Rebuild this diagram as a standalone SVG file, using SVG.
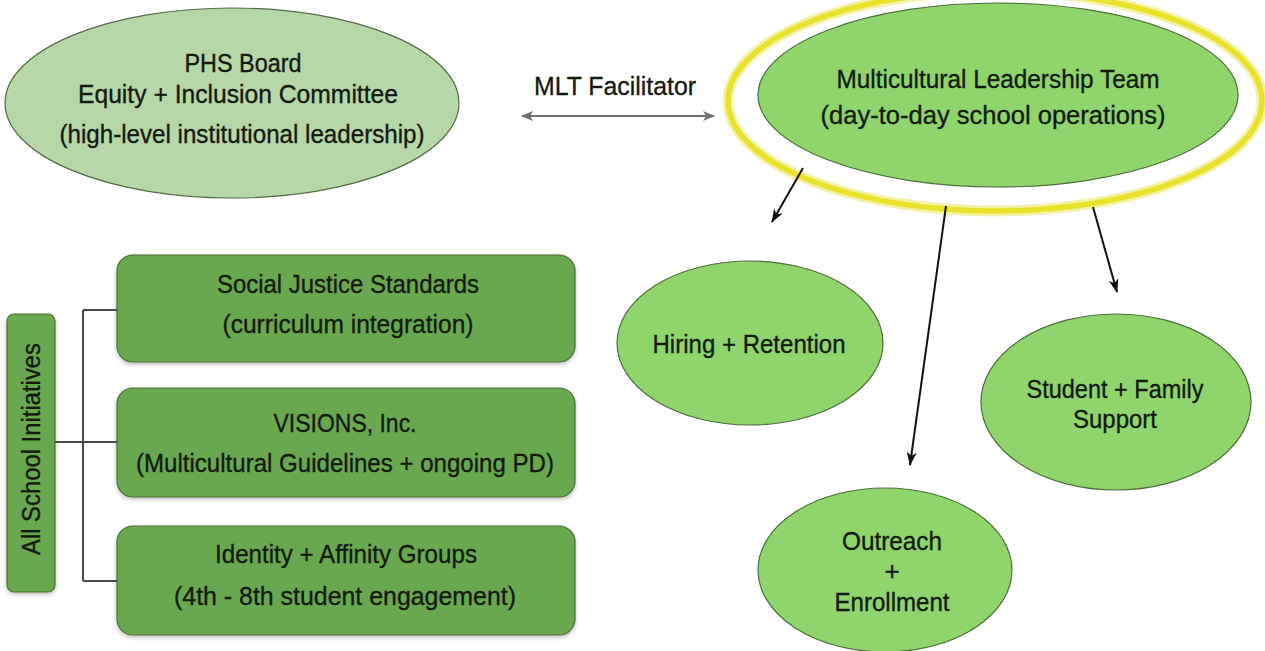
<svg xmlns="http://www.w3.org/2000/svg" width="1265" height="651" viewBox="0 0 1265 651">
<defs>
<style>
text{font-family:"Liberation Sans",Arial,sans-serif;font-size:26px;fill:#141a10;stroke:#141a10;stroke-width:0.35;text-anchor:middle}
.lite{fill:#b6d7a8;stroke:#556b48;stroke-width:1.2}
.ell{fill:#8fd56c;stroke:#4d6e3a;stroke-width:1.2}
.box{fill:#6aa84f;stroke:#4a6e35;stroke-width:1.2}
.tree{fill:none;stroke:#4a4a4a;stroke-width:2}
.arr{fill:none;stroke:#111;stroke-width:2;marker-end:url(#ah)}
</style>
<marker id="ah" viewBox="0 0 14 10" refX="13" refY="5" markerWidth="14" markerHeight="10" markerUnits="userSpaceOnUse" orient="auto">
<path d="M0,0 L14,5 L0,10 L4,5 Z" fill="#111"/>
</marker>
<marker id="gh" viewBox="0 0 12 10" refX="11" refY="5" markerWidth="12" markerHeight="10" markerUnits="userSpaceOnUse" orient="auto-start-reverse">
<path d="M0,0 L12,5 L0,10 L3,5 Z" fill="#707070"/>
</marker>
<filter id="sh" x="-10%" y="-10%" width="120%" height="130%">
<feDropShadow dx="0" dy="2" stdDeviation="2" flood-color="#000" flood-opacity="0.25"/>
</filter>
</defs>
<rect width="1265" height="651" fill="#ffffff"/>

<g id="phs-board">
<ellipse class="lite" cx="232" cy="103" rx="227" ry="95"/>
<text x="243" y="72" textLength="117" lengthAdjust="spacingAndGlyphs">PHS Board</text>
<text x="238" y="103" textLength="320" lengthAdjust="spacingAndGlyphs">Equity + Inclusion Committee</text>
<text x="242" y="143" textLength="365" lengthAdjust="spacingAndGlyphs">(high-level institutional leadership)</text>
</g>

<g id="mlt">
<ellipse cx="995" cy="101" rx="267" ry="110" fill="none" stroke="#f4f1a8" stroke-width="11"/>
<ellipse cx="995" cy="101" rx="267" ry="110" fill="none" stroke="#e8e22a" stroke-width="5.5"/>
<ellipse class="ell" cx="998" cy="95" rx="240" ry="92"/>
<text x="998" y="88" textLength="323" lengthAdjust="spacingAndGlyphs">Multicultural Leadership Team</text>
<text x="993" y="124" textLength="345" lengthAdjust="spacingAndGlyphs">(day-to-day school operations)</text>
</g>

<g id="hiring">
<ellipse class="ell" cx="750" cy="343" rx="133" ry="82"/>
<text x="749" y="353" textLength="193" lengthAdjust="spacingAndGlyphs">Hiring + Retention</text>
</g>

<g id="student-family">
<ellipse class="ell" cx="1116" cy="402" rx="135" ry="88"/>
<text x="1115" y="398" textLength="177" lengthAdjust="spacingAndGlyphs">Student + Family</text>
<text x="1115" y="428" textLength="84" lengthAdjust="spacingAndGlyphs">Support</text>
</g>

<g id="outreach">
<ellipse class="ell" cx="885" cy="570" rx="127" ry="82"/>
<text x="892" y="550" textLength="100" lengthAdjust="spacingAndGlyphs">Outreach</text>
<text x="892" y="580">+</text>
<text x="892" y="611" textLength="115" lengthAdjust="spacingAndGlyphs">Enrollment</text>
</g>

<g id="all-school">
<rect class="box" x="7" y="314" width="48" height="278" rx="7" filter="url(#sh)"/>
<text transform="translate(40,449) rotate(-90)" textLength="212" lengthAdjust="spacingAndGlyphs">All School Initiatives</text>
</g>

<g id="social-justice">
<rect class="box" x="117" y="255" width="458" height="107" rx="16" filter="url(#sh)"/>
<text x="348" y="293" textLength="262" lengthAdjust="spacingAndGlyphs">Social Justice Standards</text>
<text x="348" y="333" textLength="251" lengthAdjust="spacingAndGlyphs">(curriculum integration)</text>
</g>

<g id="visions">
<rect class="box" x="117" y="388" width="458" height="109" rx="16" filter="url(#sh)"/>
<text x="345" y="432" textLength="143" lengthAdjust="spacingAndGlyphs">VISIONS, Inc.</text>
<text x="345" y="472" textLength="418" lengthAdjust="spacingAndGlyphs">(Multicultural Guidelines + ongoing PD)</text>
</g>

<g id="identity">
<rect class="box" x="117" y="526" width="458" height="109" rx="16" filter="url(#sh)"/>
<text x="346" y="563" textLength="262" lengthAdjust="spacingAndGlyphs">Identity + Affinity Groups</text>
<text x="345" y="605" textLength="342" lengthAdjust="spacingAndGlyphs">(4th - 8th student engagement)</text>
</g>

<g id="connectors">
<path class="tree" d="M55,442 H117 M83,310 V581 M83,310 H117 M83,581 H117"/>
<line x1="522" y1="116" x2="714" y2="116" stroke="#707070" stroke-width="2" marker-start="url(#gh)" marker-end="url(#gh)"/>
<text x="615" y="95" textLength="162" lengthAdjust="spacingAndGlyphs">MLT Facilitator</text>
<line class="arr" x1="803" y1="168" x2="772" y2="222"/>
<line class="arr" x1="946" y1="206" x2="910" y2="465"/>
<line class="arr" x1="1093" y1="207" x2="1117" y2="292"/>
</g>
</svg>
